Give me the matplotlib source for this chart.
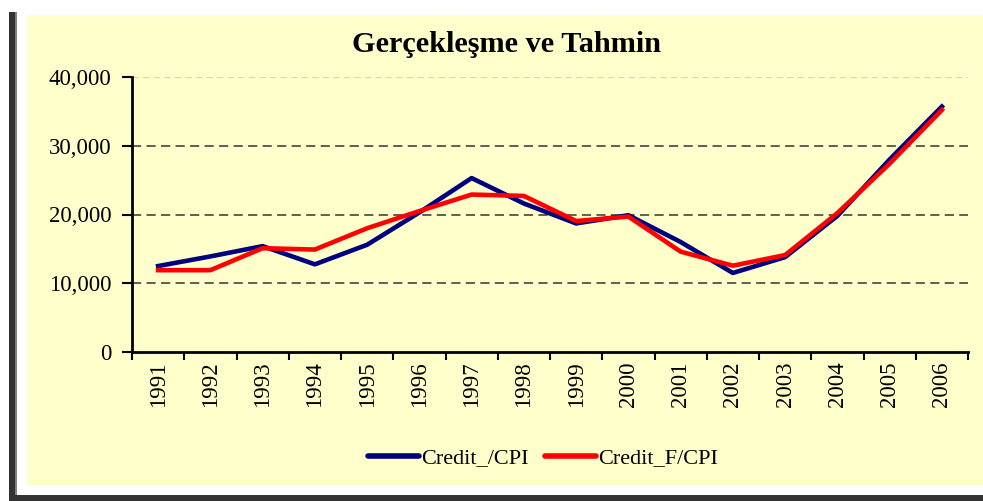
import matplotlib
matplotlib.use("Agg")
from matplotlib import pyplot as plt
from matplotlib.patches import Rectangle
from matplotlib.ticker import FuncFormatter
import numpy as np

# Datos
years = ["1991", "1992", "1993", "1994", "1995", "1996", "1997", "1998",
         "1999", "2000", "2001", "2002", "2003", "2004", "2005", "2006"]
credit_cpi = [12500, 13900, 15400, 12750, 15600, 20300, 25300, 21600,
              18700, 19900, 16000, 11500, 13800, 19800, 28000, 35700]
credit_f_cpi = [11900, 11900, 15100, 14900, 18000, 20500, 22900, 22700,
                19050, 19700, 14600, 12550, 14100, 20200, 27400, 35200]

plt.rcParams['font.family'] = ['Liberation Serif', 'DejaVu Serif']

fig = plt.figure(figsize=(9.83, 5.01), dpi=100)
fig.patch.set_facecolor("white")

W, H = 983.0, 501.0
# fondo amarillo y marco oscuro
fondo = [
    ((27, 16), 956, 470, "#FFFFCC"),
    ((9, 0), 6, 489, "#333333"),
    ((15, 6), 2, 483, "#808080"),
    ((9, 0), 974, 6, "#333333"),
]
for (x0, y0), w, h, col in fondo:
    fig.patches.append(Rectangle((x0 / W, y0 / H), w / W, h / H,
                                 transform=fig.transFigure, facecolor=col,
                                 edgecolor="none", zorder=-5))

ax = fig.add_axes([132 / W, (H - 352) / H, (968 - 132) / W, (352 - 77) / H])
ax.set_facecolor("none")
ax.set_zorder(2)

x = np.arange(len(years))
ax.plot(x, credit_cpi, color="#000080", lw=3.3, label="Credit_/CPI", zorder=3)
ax.plot(x, credit_f_cpi, color="#FF0000", lw=3.3, label="Credit_F/CPI", zorder=4)

ax.set_xlim(-0.5, len(years) - 0.5)
ax.set_ylim(0, 40000)

for v in [10000, 20000, 30000]:
    ax.axhline(v, color="#333333", lw=1.1, ls=(0, (6, 3.5)), zorder=1)
ax.axhline(40000, color="#d8d8b0", lw=0.8, ls=(0, (6, 3.5)), zorder=1)

ax.set_yticks([0, 10000, 20000, 30000, 40000])
ax.yaxis.set_major_formatter(FuncFormatter(lambda v, p: f"{int(v):,}"))
ax.set_xticks(np.arange(-0.5, len(years)), labels=[""] * (len(years) + 1))
ax.set_xticks(x, labels=years, minor=True, rotation=90)
ax.tick_params(axis="x", which="major", length=6, width=1.5, direction="out")
ax.tick_params(axis="x", which="minor", length=0, pad=7, labelsize=16.5)
ax.tick_params(axis="y", length=7, width=1.5, direction="out", labelsize=16.5, pad=8)

for s in ["top", "right"]:
    ax.spines[s].set_visible(False)
for s in ["left", "bottom"]:
    ax.spines[s].set_linewidth(2)

fig.text(507 / W, 1 - 45 / H, "Gerçekleşme ve Tahmin", ha="center", va="center",
         fontsize=21.8, fontweight="bold")

leg = fig.legend(loc="center", bbox_to_anchor=(543 / W, 1 - 458 / H), ncol=2,
                 frameon=False, fontsize=16, handlelength=2.3, handletextpad=0.1,
                 columnspacing=0.7)
for ln in leg.get_lines():
    ln.set_linewidth(4)
    ln.set_solid_capstyle("round")

fig.savefig("out.png", dpi=100, facecolor="white")
